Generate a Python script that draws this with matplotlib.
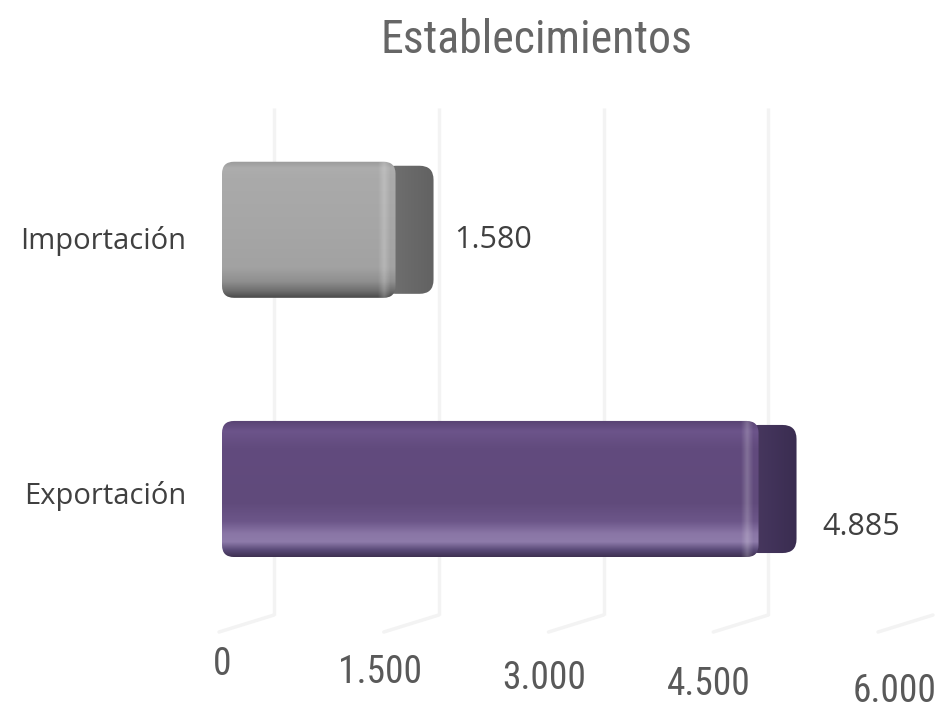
import matplotlib
matplotlib.use('Agg')
import matplotlib.pyplot as plt
import numpy as np
from matplotlib.patches import FancyBboxPatch
from matplotlib.colors import LinearSegmentedColormap
from matplotlib.transforms import ScaledTranslation

# datos
categories = ['Exportación', 'Importación']
values = [4885, 1580]
value_labels = ['4.885', '1.580']
ticks = [0, 1500, 3000, 4500, 6000]
tick_labels = ['0', '1.500', '3.000', '4.500', '6.000']

# estilos: gradientes (posicion desde abajo, color)
front_stops = [
    [(0, '#3f3152'), (0.05, '#5a4a78'), (0.11, '#8e7baa'), (0.17, '#8a76a6'),
     (0.26, '#6c5689'), (0.4, '#604a7b'), (0.8, '#624b7e'), (0.92, '#6c548a'),
     (1, '#574272')],
    [(0, '#4a4a4a'), (0.05, '#6e6e6e'), (0.12, '#8f8f8f'), (0.22, '#a2a2a2'),
     (0.5, '#a6a6a6'), (0.88, '#aaaaaa'), (0.95, '#adadad'), (1, '#9a9a9a')],
]
side_stops = [
    [(0, '#4a3a60'), (0.5, '#42335a'), (1, '#3a2d50')],
    [(0, '#727272'), (0.5, '#6a6a6a'), (1, '#626262')],
]
label_offsets = [(64, -38), (59, -10)]      # pixeles
tick_dy = [-2, -10, -16, -22, -29]            # pixeles
tick_dx = [0, -7, -7, -7, 14]

narrow = ['Liberation Sans Narrow', 'Roboto Condensed', 'DejaVu Sans Condensed', 'DejaVu Sans']
body = ['Open Sans', 'DejaVu Sans']

fig = plt.figure(figsize=(9.45, 7.11), dpi=100)
ax = fig.add_axes([222 / 945, 81 / 711, 659 / 945, 535 / 711])
ax.set_xlim(0, 6000)
ax.set_ylim(-0.544, 1.52)
for s in ax.spines.values():
    s.set_visible(False)

px = 1 / fig.dpi
back = ScaledTranslation(52 * px, 0, fig.dpi_scale_trans)

# lineas de la pared del fondo
ax.vlines(ticks, 0.028, 0.975, transform=ax.get_xaxis_transform() + back,
          color='#f3f3f3', lw=2.5, zorder=0)
for t in ticks:
    ax.annotate('', xy=(t, 0.028), xycoords=ax.get_xaxis_transform() + back,
                xytext=(-55, -17), textcoords='offset pixels',
                arrowprops=dict(arrowstyle='-', color='#f3f3f3', lw=2.5,
                                shrinkA=0, shrinkB=0), zorder=0)

bar_h = 0.525
bars = ax.barh(range(len(categories)), values, height=bar_h, color='none', zorder=1)

xu = 6000 / 659      # unidades por pixel en x
yu = 2.064 / 535     # unidades por pixel en y
asp = yu / xu

# brillo del borde redondeado (perfil horizontal)
edge = np.zeros((1, 60, 4))
prof = np.interp(np.linspace(0, 1, 60), [0, 0.3, 0.55, 0.8, 1], [0, 0.0, 0.22, 0.0, 0.0])
edge[0, :, :3] = 1.0
edge[0, :, 3] = prof

for i, b in enumerate(bars):
    x0, y0 = b.get_x(), b.get_y()
    w, h = b.get_width(), b.get_height()

    # cara lateral
    side = FancyBboxPatch((x0 + w - 14 * xu, y0 + 4 * yu), 52 * xu, h - 8 * yu,
                          boxstyle='round,pad=0,rounding_size=%f' % (14 * xu),
                          mutation_aspect=asp, fc='none', ec='none', zorder=2)
    ax.add_patch(side)
    cm = LinearSegmentedColormap.from_list('s%d' % i, side_stops[i])
    im = ax.imshow(np.linspace(0, 1, 64)[None, :], cmap=cm, aspect='auto',
                   extent=(x0 + w - 14 * xu, x0 + w + 38 * xu, y0, y0 + h),
                   origin='lower', zorder=2, interpolation='bilinear')
    im.set_clip_path(side)

    # cara frontal
    front = FancyBboxPatch((x0, y0), w, h,
                           boxstyle='round,pad=0,rounding_size=%f' % (12 * xu),
                           mutation_aspect=asp, fc='none', ec='none', zorder=3)
    ax.add_patch(front)
    cm = LinearSegmentedColormap.from_list('f%d' % i, front_stops[i])
    im = ax.imshow(np.linspace(0, 1, 256)[:, None], cmap=cm, aspect='auto',
                   extent=(x0, x0 + w, y0, y0 + h), origin='lower', zorder=3,
                   interpolation='bilinear')
    im.set_clip_path(front)
    hl = ax.imshow(edge, aspect='auto', extent=(x0 + w - 26 * xu, x0 + w, y0, y0 + h),
                   origin='lower', zorder=4, interpolation='bicubic')
    hl.set_clip_path(front)

    ax.annotate(value_labels[i], xy=(x0 + w, y0 + h / 2), xytext=label_offsets[i],
                textcoords='offset pixels', ha='left', va='center',
                fontsize=22, color='#404040', family=body)

ax.set_xlim(0, 6000)
ax.set_ylim(-0.544, 1.52)

ax.set_yticks(range(len(categories)))
ax.set_yticklabels(categories, fontsize=21, color='#404040', family=body)
ax.tick_params(axis='y', length=0, pad=26)
for lab, dy in zip(ax.get_yticklabels(), [-4, -8]):
    lab.set_transform(lab.get_transform() +
                      ScaledTranslation(0, dy * px, fig.dpi_scale_trans))

ax.set_xticks(ticks)
ax.set_xticklabels(tick_labels, fontsize=27, color='#595959', family=narrow)
ax.tick_params(axis='x', length=0, pad=10)
for lab, dx, dy in zip(ax.get_xticklabels(), tick_dx, tick_dy):
    lab.set_transform(lab.get_transform() +
                      ScaledTranslation(dx * px, dy * px, fig.dpi_scale_trans))

fig.text(536 / 945, 1 - 40 / 711, 'Establecimientos', ha='center', va='center',
         fontsize=33, color='#666666', family=narrow)

fig.savefig('out.png', dpi=100)
